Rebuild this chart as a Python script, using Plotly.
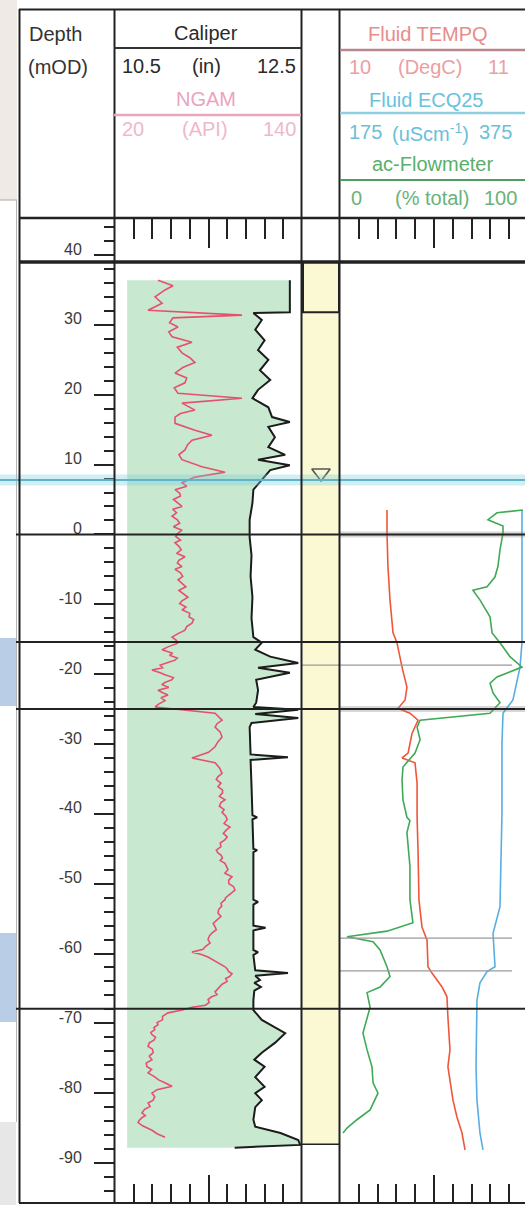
import plotly.graph_objects as go

W, H = 525, 1205

# ---------------- data ----------------
cal_depth = [36.4, 31.8, 31.7, 30.7, 29.3, 27.8, 26.4, 25.0, 23.5, 22.1, 20.7, 19.5, 18.2, 16.8, 16.1, 15.4,
             13.9, 12.5, 11.4, 10.7, 9.9, 9.2, 7.8, 6.4, 4.5, 2.1, -0.4, -3.0, -6.0, -9.0, -12.0, -14.7,
             -15.5, -16.5, -17.5, -18.4, -19.1, -19.8, -20.8, -22.3, -24.1, -24.7, -25.1, -25.7, -26.3,
             -27.0, -27.6, -31.5, -31.9, -32.3, -36.0, -40.2, -40.5, -40.8, -45.0, -45.2, -45.5, -50.0,
             -52.3, -52.6, -53.0, -56.0, -56.3, -56.7, -59.5, -59.8, -60.2, -62.4, -62.8, -63.2, -63.8,
             -64.2, -64.8, -65.3, -66.7, -68.1, -69.5, -71.4, -72.8, -74.2, -75.2, -76.2, -77.7, -79.1,
             -80.0, -81.0, -82.0, -83.8, -84.8, -85.7, -86.7, -87.4, -87.6, -87.8]
cal_in = [12.37, 12.37, 11.98, 12.07, 12.00, 12.10, 12.03, 12.14, 12.05, 12.16, 12.03, 11.97, 12.14, 12.18, 12.37, 12.14,
          12.21, 12.14, 12.32, 12.03, 12.37, 12.16, 12.07, 11.98, 11.97, 11.94, 11.94, 11.96, 11.95, 11.97, 11.96, 11.98,
          12.07, 12.00, 12.16, 12.46, 12.03, 12.37, 12.01, 12.03, 12.01, 11.98, 12.46, 12.00, 12.46,
          11.96, 11.94, 11.95, 12.35, 11.95, 11.96, 11.97, 12.02, 11.97, 11.98, 12.02, 11.98, 11.98,
          11.98, 12.03, 11.98, 11.98, 12.11, 11.98, 11.98, 12.03, 11.98, 12.00, 12.35, 12.00, 12.05,
          11.99, 12.06, 11.99, 11.98, 11.98, 12.07, 12.32, 12.21, 12.07, 11.99, 12.10, 12.00, 12.10,
          12.00, 12.07, 12.00, 11.98, 12.00, 12.27, 12.46, 12.48, 12.10, 11.78]

ngam_depth = [36.4, 35.6, 35.0, 34.0, 33.1, 32.1, 31.4, 31.0, 30.3, 29.7, 29.0, 28.3, 27.5, 26.8, 26.0, 25.3, 24.6,
              23.9, 23.1, 22.4, 21.7, 21.0, 20.2, 19.5, 18.8, 18.3, 17.8, 17.3, 16.8, 15.9, 14.9, 14.2, 13.5,
              12.8, 12.1, 11.4, 10.7, 9.7, 8.9, 8.2, 7.4, 6.9, 6.4, 5.9, 5.5, 5.0, 4.5, 4.0, 3.6, 3.1,
              2.6, 2.1, 1.6, 1.1, 0.6, 0.1, -0.3, -0.8, -1.2, -1.7, -2.2, -2.7, -3.2, -3.7, -4.1, -4.6,
              -5.0, -5.5, -6.0, -6.5, -7.0, -7.5, -8.0, -8.5, -9.0, -9.5, -9.9, -10.4, -10.8, -11.3, -11.8,
              -12.2, -12.7, -13.2, -13.7, -14.2, -14.7, -15.2, -15.6, -16.1, -16.5, -17.0, -17.3, -17.7,
              -18.0, -18.4, -18.7, -19.1, -19.4, -19.8, -20.1, -20.5, -20.8, -21.2, -21.5, -21.9, -22.3,
              -22.7, -23.0, -23.4, -23.8, -24.3, -24.7, -25.6, -26.1, -26.6, -27.1, -27.6, -28.3, -29.0,
              -29.7, -30.4, -31.2, -32.0, -32.7, -33.4, -34.2, -34.7, -35.1, -35.6, -36.1, -36.6, -37.0,
              -37.5, -38.0, -38.4, -38.9, -39.4, -39.8, -40.3, -40.8, -41.4, -41.9, -42.3, -42.8, -43.3,
              -43.7, -44.2, -44.7, -45.2, -45.6, -45.9, -46.3, -46.7, -47.1, -47.6, -48.0, -48.5, -49.0,
              -49.5, -50.0, -50.4, -50.9, -51.3, -51.6, -52.0, -52.3, -52.8, -53.2, -53.7, -54.2, -54.7,
              -55.2, -55.7, -56.2, -56.6, -57.1, -57.5, -58.0, -58.5, -59.0, -59.4, -59.8, -60.1, -60.5,
              -60.9, -61.2, -61.5, -61.9, -62.2, -62.6, -62.9, -63.3, -63.6, -64.0, -64.4, -64.8, -65.1,
              -65.5, -65.9, -66.2, -66.6, -67.0, -67.4, -67.7, -68.1, -68.5, -69.0, -69.5, -69.9, -70.2,
              -70.6, -70.9, -71.3, -71.6, -72.0, -72.4, -72.8, -73.3, -73.7, -74.2, -74.7, -75.2, -75.7,
              -76.2, -76.6, -77.1, -77.6, -78.1, -78.5, -79.0, -79.5, -80.0, -80.5, -81.0, -81.4, -81.9,
              -82.3, -82.8, -83.2, -83.5, -83.9, -84.2, -84.7, -85.3, -85.8, -86.3, -86.7, -87.1]
ngam_api = [47.6, 57.2, 52.1, 45.7, 50.2, 41.2, 101.5, 57.2, 55.0, 60.4, 54.5, 56.6, 69.4, 60.0, 63.0, 68.0, 71.3,
            63.5, 58.5, 66.0, 64.9, 58.0, 60.4, 101.5, 63.0, 67.0, 71.3, 62.0, 58.5, 58.5, 71.3, 82.2, 69.4,
            66.5, 64.9, 61.0, 63.0, 75.8, 90.6, 71.3, 63.0, 66.0, 58.5, 61.5, 62.0, 57.5, 60.4, 63.0, 57.0, 59.5,
            56.6, 60.0, 61.5, 57.5, 63.0, 60.0, 59.0, 62.0, 58.5, 61.0, 62.5, 59.5, 64.9, 61.0, 60.0, 63.0,
            58.5, 62.0, 63.5, 60.5, 63.0, 65.5, 61.0, 64.0, 66.8, 63.0, 61.5, 65.5, 63.0, 68.0, 67.5,
            70.5, 69.4, 66.0, 64.9, 60.5, 56.6, 59.5, 60.0, 54.0, 50.2, 57.0, 55.0, 60.0,
            58.5, 53.0, 49.0, 50.5, 43.7, 49.0, 52.0, 57.5, 56.6, 52.0, 50.0, 54.5, 47.6,
            51.0, 54.0, 49.5, 52.1, 48.0, 45.7, 84.2, 86.5, 88.7, 85.5, 84.2, 87.5, 88.7,
            86.0, 84.2, 80.0, 69.4, 84.2, 87.0, 88.7, 86.0, 85.0, 88.0, 86.1, 89.0, 89.0,
            87.0, 90.6, 88.0, 87.0, 90.0, 88.7, 91.0, 92.0, 90.0, 93.8, 91.5, 89.5, 92.0,
            90.6, 87.5, 88.0, 85.0, 86.1, 88.0, 89.0, 87.5, 90.6, 91.5, 92.5, 90.5, 95.1,
            93.0, 93.0, 96.0, 97.0, 95.0, 93.5, 91.0, 90.6, 88.0, 88.5, 86.5, 86.1, 88.0,
            85.5, 83.0, 84.2, 85.0, 82.0, 80.5, 79.7, 81.0, 78.0, 76.5, 69.4, 75.0, 79.7,
            83.0, 85.0, 88.0, 90.6, 92.0, 93.0, 95.1, 93.5, 91.0, 92.0, 88.7, 87.0, 86.0,
            84.2, 85.5, 82.0, 79.7, 80.5, 78.0, 69.4, 63.0, 54.0, 50.5, 50.5, 47.0,
            47.6, 45.0, 45.5, 43.0, 43.7, 46.0, 45.0, 42.0, 41.2, 44.0, 44.5, 42.0,
            43.7, 40.0, 40.5, 43.5, 41.2, 45.0, 48.0, 52.0, 56.6, 47.0, 43.7, 45.5, 44.5,
            41.2, 42.5, 39.0, 37.3, 39.5, 37.3, 35.5, 34.8, 38.0, 43.7, 47.0, 52.1]

temp_depth = [3.5, 0.2, -4.6, -9.4, -14.1, -15.5, -19.0, -21.9, -23.7, -24.9, -25.6, -26.6, -28.5, -31.3, -32.0,
              -32.7, -35.6, -40.5, -45.2, -52.3, -56.2, -58.1, -61.9, -62.8, -64.8, -66.2, -69.1, -73.8, -76.2,
              -81.0, -83.4, -85.7, -88.1]
temp_c = [10.250, 10.250, 10.255, 10.266, 10.282, 10.303, 10.330, 10.356, 10.346, 10.309, 10.372, 10.415, 10.383,
          10.362, 10.330, 10.399, 10.410, 10.410, 10.415, 10.420, 10.436, 10.463, 10.468, 10.489, 10.543, 10.569,
          10.574, 10.585, 10.574, 10.601, 10.622, 10.649, 10.665]

ec_depth = [3.5, -15.5, -19.0, -23.7, -25.6, -30.0, -40.0, -53.3, -57.1, -61.9, -62.6, -64.2, -66.7, -76.2, -81.0,
            -85.7, -88.1]
ec_us = [368.6, 368.6, 366.5, 359.0, 348.4, 347.3, 347.3, 345.2, 337.8, 339.9, 331.4, 323.9, 320.7, 319.7, 320.7,
         323.9, 327.1]

flow_depth = [3.5, 3.1, 2.1, 1.2, 0.2, -2.2, -4.6, -6.1, -7.5, -8.0, -9.4, -11.8, -14.1, -15.5, -17.5, -19.0,
              -20.4, -21.3, -22.7, -24.1, -25.6, -26.6, -27.6, -29.4, -31.3, -33.3, -35.2, -38.0, -40.5, -41.0,
              -42.7, -47.5, -52.3, -55.6, -56.8, -57.6, -58.3, -59.5, -61.9, -63.3, -64.8, -65.6, -67.7, -71.4,
              -73.8, -76.2, -78.5, -80.0, -82.4, -83.8, -85.0, -85.7]
flow_pct = [97.3, 83.5, 78.7, 86.7, 86.7, 85.1, 84.0, 82.4, 78.2, 70.7, 74.5, 79.8, 80.9, 85.1, 90.4, 96.8,
            83.5, 79.8, 81.4, 85.1, 79.8, 42.6, 41.0, 42.6, 39.9, 33.5, 33.0, 33.5, 35.6, 37.2,
            35.6, 37.2, 37.2, 38.8, 25.0, 3.7, 17.6, 21.3, 25.0, 26.6, 21.3, 14.4, 16.0, 12.2,
            14.4, 17.0, 17.6, 20.2, 16.0, 9.0, 3.7, 1.6]

depth_ticks = [40, 30, 20, 10, 0, -10, -20, -30, -40, -50, -60, -70, -80, -90]
depth_tick_text = ["40", "30", "20", "10", "0", "-10", "-20", "-30", "-40", "-50", "-60", "-70", "-80", "-90"]

ground_level = 39.0
water_level = 7.8
water_symbol_depth = 8.8
casing_base = 31.8
column_base = -87.3
marker_depths = [0.0, -15.4, -25.0, -67.9]
thin_marker_depths = [-18.7, -57.8, -62.5]

# ---------------- layout helpers ----------------
def X(p):
    return p / W

def Y(p):
    return 1 - p / H

PLOT_TOP, PLOT_BOT = 218, 1203
DEPTH_RANGE = [-95.72, 45.30]
YDOM = [Y(PLOT_BOT), Y(PLOT_TOP)]
T1 = [X(115), X(302)]
TC = [X(302), X(340)]
T3 = [X(340), 1.0]
EXT = 185 / 188  # track 3 continues a little past the page edge

FILL_LEFT = 10.63
GREEN_FILL = "#c8e9cf"
INK = "#222222"

fig = go.Figure()

fig.add_trace(go.Scatter(x=[FILL_LEFT] * len(cal_depth), y=cal_depth, mode="lines",
                         line=dict(width=0, color="rgba(0,0,0,0)"), xaxis="x", yaxis="y",
                         hoverinfo="skip", showlegend=False))
fig.add_trace(go.Scatter(x=cal_in, y=cal_depth, mode="lines", fill="tonextx", fillcolor=GREEN_FILL,
                         line=dict(width=0, color="rgba(0,0,0,0)"), xaxis="x", yaxis="y",
                         hoverinfo="skip", showlegend=False))
fig.add_trace(go.Scatter(x=ngam_api, y=ngam_depth, mode="lines", line=dict(color="#e5506f", width=1.6),
                         xaxis="x2", yaxis="y", name="NGAM"))
fig.add_trace(go.Scatter(x=cal_in, y=cal_depth, mode="lines", line=dict(color="#1c1c1c", width=2),
                         xaxis="x", yaxis="y", name="Caliper"))
fig.add_trace(go.Scatter(x=[0.5], y=[water_symbol_depth], mode="markers",
                         marker=dict(symbol="triangle-down-open", size=16, color="#555555", line=dict(width=1.6)),
                         xaxis="x3", yaxis="y", name="water"))
fig.add_trace(go.Scatter(x=temp_c, y=temp_depth, mode="lines", line=dict(color="#f0563a", width=1.6),
                         xaxis="x4", yaxis="y", name="Fluid TEMPQ"))
fig.add_trace(go.Scatter(x=ec_us, y=ec_depth, mode="lines", line=dict(color="#58aee2", width=1.6),
                         xaxis="x5", yaxis="y", name="Fluid ECQ25"))
fig.add_trace(go.Scatter(x=flow_pct, y=flow_depth, mode="lines", line=dict(color="#3faa55", width=1.6),
                         xaxis="x6", yaxis="y", name="ac-Flowmeter"))

tick_common = dict(showgrid=False, zeroline=False, showline=False, showticklabels=False,
                   tickcolor=INK, fixedrange=True)

layout = dict(
    width=W, height=H, margin=dict(l=0, r=0, t=0, b=0),
    paper_bgcolor="white", plot_bgcolor="rgba(0,0,0,0)", showlegend=False,
    font=dict(family="Liberation Sans, Arial, sans-serif", color="#333333"),
    xaxis=dict(domain=T1, range=[10.5, 12.5], side="top", anchor="y", ticks="inside",
               tick0=10.5, dtick=1, ticklen=30, tickwidth=1.6,
               minor=dict(tick0=10.5, dtick=0.2, ticks="inside", ticklen=21, tickcolor=INK, tickwidth=1.6),
               **tick_common),
    xaxis2=dict(overlaying="x", range=[20, 140], side="bottom", anchor="y", ticks="inside",
                tick0=20, dtick=60, ticklen=28, tickwidth=1.6,
                minor=dict(tick0=20, dtick=12, ticks="inside", ticklen=19, tickcolor=INK, tickwidth=1.6),
                **tick_common),
    xaxis3=dict(domain=TC, range=[0, 1], anchor="y", ticks="", **tick_common),
    xaxis4=dict(domain=T3, range=[10, 10 + 1 * EXT], side="top", anchor="y", ticks="inside",
                tick0=10, dtick=0.5, ticklen=30, tickwidth=1.6,
                minor=dict(tick0=10, dtick=0.1, ticks="inside", ticklen=21, tickcolor=INK, tickwidth=1.6),
                **tick_common),
    xaxis5=dict(overlaying="x4", range=[175, 175 + 200 * EXT], side="bottom", anchor="y", ticks="inside",
                tick0=175, dtick=100, ticklen=28, tickwidth=1.6,
                minor=dict(tick0=175, dtick=20, ticks="inside", ticklen=19, tickcolor=INK, tickwidth=1.6),
                **tick_common),
    xaxis6=dict(overlaying="x4", range=[0, 100 * EXT], anchor="y", ticks="", **tick_common),
    yaxis=dict(domain=YDOM, range=DEPTH_RANGE, anchor="x", side="left", ticks="outside",
               tickmode="array", tickvals=depth_ticks, ticktext=depth_tick_text, ticklen=20,
               tickcolor=INK, tickwidth=2, showticklabels=True, ticklabelstandoff=9, ticklabelshift=-6,
               tickfont=dict(size=16, color="#3a3a3a", family="Liberation Sans, Arial, sans-serif"),
               minor=dict(tick0=0, dtick=2, ticks="outside", ticklen=10, tickcolor=INK, tickwidth=2),
               showgrid=False, zeroline=False, showline=False, fixedrange=True),
    yaxis2=dict(overlaying="y", range=DEPTH_RANGE, anchor="x", side="left", ticks="inside",
                tickmode="array", tickvals=depth_ticks, ticklen=15, tickwidth=2,
                minor=dict(tick0=0, dtick=2, ticks="inside", ticklen=10, tickcolor=INK, tickwidth=2),
                **tick_common),
    yaxis3=dict(overlaying="y", range=DEPTH_RANGE, anchor="x4", side="left", ticks="inside",
                tickmode="array", tickvals=depth_ticks, ticklen=13, tickwidth=2,
                minor=dict(tick0=0, dtick=2, ticks="inside", ticklen=9, tickcolor=INK, tickwidth=2),
                **tick_common),
)
fig.update_layout(**layout)

shapes = []

def pline(x0, y0, x1, y1, color=INK, width=2, layer="above"):
    shapes.append(dict(type="line", xref="paper", yref="paper", x0=X(x0), x1=X(x1), y0=Y(y0), y1=Y(y1),
                       line=dict(color=color, width=width), layer=layer))

def prect(x0, y0, x1, y1, color, layer="below"):
    shapes.append(dict(type="rect", xref="paper", yref="paper", x0=X(x0), x1=X(x1), y0=Y(y0), y1=Y(y1),
                       fillcolor=color, line=dict(width=0), layer=layer))

def dline(depth, x0, x1, color=INK, width=2):
    shapes.append(dict(type="line", xref="paper", yref="y", x0=X(x0), x1=X(x1), y0=depth, y1=depth,
                       line=dict(color=color, width=width), layer="above"))

# slide decorations at the left edge
prect(0, 0, 17, 200, "#efeae5")
prect(0, 1122, 16, H, "#e7e7e7")
pline(0, 200, 17, 200, "#a8a8a8", 1)
pline(16.5, 200, 16.5, 1122, "#b5b5b5", 1)
prect(0, 638, 16, 706, "#b9cde6", layer="above")
prect(0, 933, 16, 1022, "#b9cde6", layer="above")

# centre column (yellow)
shapes.append(dict(type="rect", xref="x3", yref="y", x0=0, x1=1, y0=column_base, y1=ground_level,
                   fillcolor="#fbf9d4", line=dict(width=0), layer="below"))
shapes.append(dict(type="line", xref="x3", yref="y", x0=0, x1=1, y0=casing_base, y1=casing_base,
                   line=dict(color=INK, width=2), layer="above"))
shapes.append(dict(type="line", xref="x3", yref="y", x0=0, x1=1, y0=column_base, y1=column_base,
                   line=dict(color=INK, width=1.5), layer="above"))
for xx in (0, 1):
    shapes.append(dict(type="line", xref="x3", yref="y", x0=xx, x1=xx, y0=casing_base, y1=ground_level,
                       line=dict(color=INK, width=4), layer="above"))

# water level band
dline(water_level, 0, W, "rgba(120,205,222,0.35)", 11)
dline(water_level, 0, W, "#5fb3c4", 2)

# grey bands in track 3
for d in (0.0, -25.0):
    dline(d, 340, W, "rgba(140,140,140,0.35)", 6)
for d in thin_marker_depths:
    dline(d, 302 if d == thin_marker_depths[0] else 340, 512, "#9a9a9a", 1.2)

# marker (depth) lines
for d in marker_depths:
    dline(d, 16, W, INK, 2)
dline(ground_level, 19, W, INK, 3.5)

# frame and column dividers
pline(19, 9.5, W, 9.5, INK, 2)
pline(19.5, 9, 19.5, 1203, INK, 2)
pline(19, 1203, W, 1203, INK, 2)
pline(19, 218, W, 218, INK, 2.5)
for xv in (114.5, 301.5, 339.5):
    pline(xv, 9, xv, 1203, INK, 2)

# header underlines
pline(114, 48, 301, 48, "#333333", 2)
pline(114, 115, 301, 115, "#eaa5c0", 2.5)
pline(340, 50, W, 50, "#b98690", 2.5)
pline(340, 113, W, 113, "#8fd0e0", 2.5)
pline(340, 180, W, 180, "#4f9e60", 2)

fig.update_layout(shapes=shapes)

# header text
ann = []

def txt(s, x, y, color, anchor="center", size=20):
    ann.append(dict(text=s, x=X(x), y=Y(y), xref="paper", yref="paper", showarrow=False,
                    xanchor=anchor, yanchor="middle", font=dict(size=size, color=color)))

txt("Depth", 27, 34, "#333333", "left")
txt("(mOD)", 26, 67, "#333333", "left")
txt("Caliper", 206, 33, "#2a2a2a")
txt("10.5", 120, 66, "#2a2a2a", "left")
txt("(in)", 206, 66, "#2a2a2a")
txt("12.5", 298, 66, "#2a2a2a", "right")
txt("NGAM", 206, 99, "#eba3bf")
txt("20", 120, 129, "#efb8cb", "left")
txt("(API)", 205, 129, "#efb8cb")
txt("140", 298, 129, "#efb8cb", "right")
txt("Fluid TEMPQ", 428, 34, "#e88c8c")
txt("10", 347, 67, "#eba0a0", "left")
txt("(DegC)", 430, 67, "#eba0a0")
txt("11", 511, 67, "#eba0a0", "right")
txt("Fluid ECQ25", 426, 100, "#68c2dc")
txt("175", 347, 132, "#6cbfd8", "left")
txt("(uScm<sup>-1</sup>)", 430, 132, "#6cbfd8")
txt("375", 514, 132, "#6cbfd8", "right")
txt("ac-Flowmeter", 432, 164, "#5aaf6c")
txt("0", 349, 198, "#6ab27a", "left")
txt("(% total)", 432, 198, "#6ab27a")
txt("100", 519, 198, "#6ab27a", "right")
fig.update_layout(annotations=ann)

fig.write_html("out.html")
